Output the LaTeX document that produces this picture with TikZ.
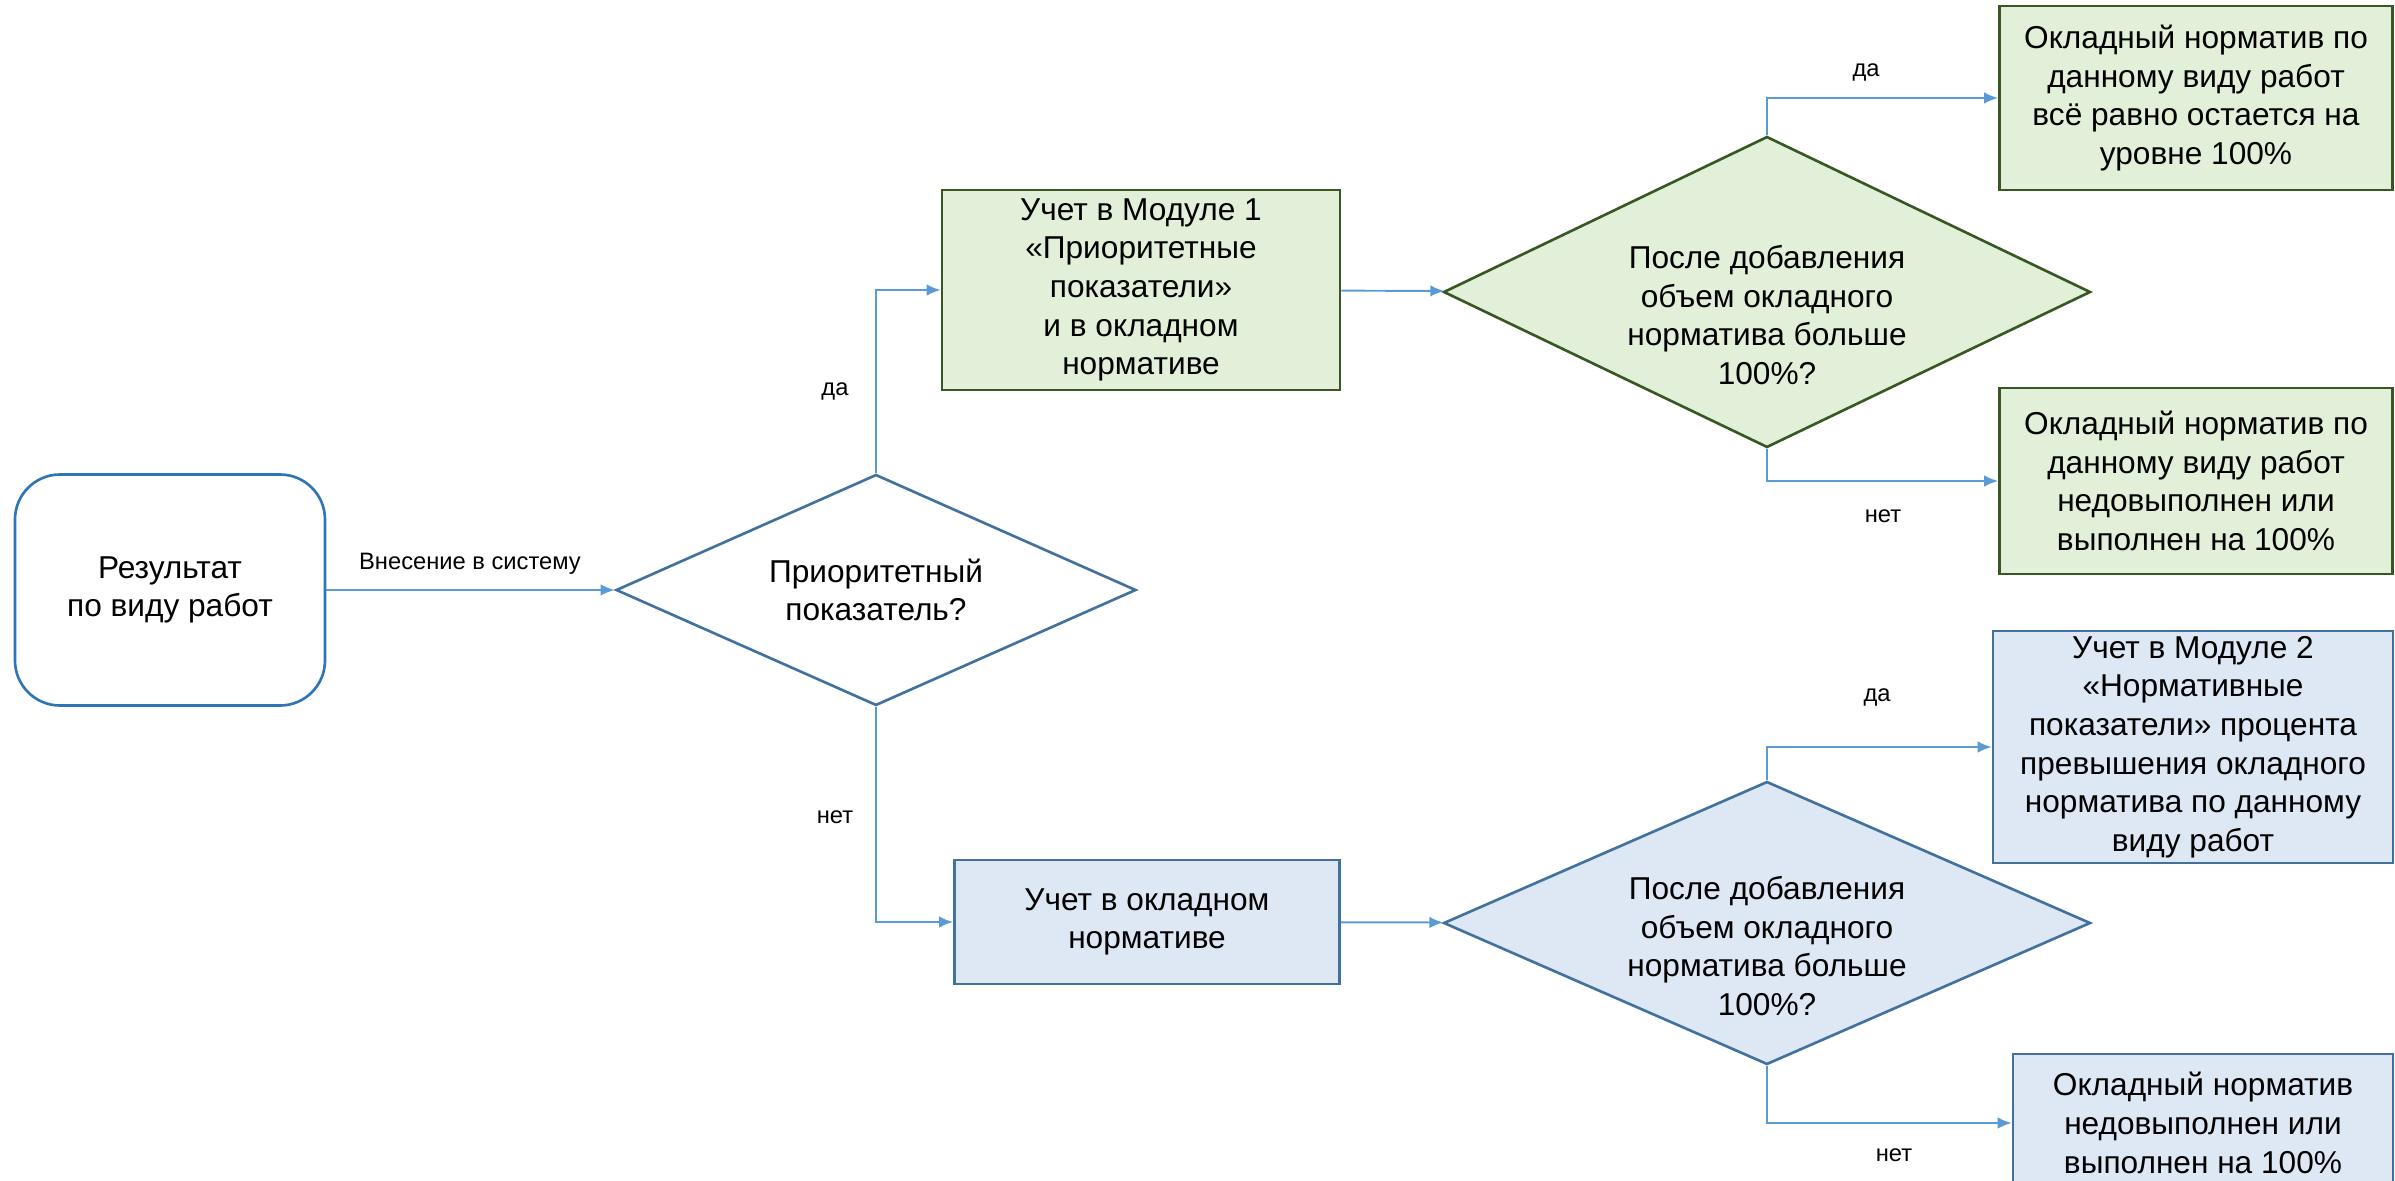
\documentclass[tikz,border=0pt]{standalone}
\usepackage{fontspec}
\setmainfont{Liberation Sans}
\usetikzlibrary{arrows.meta,shapes.geometric}

\definecolor{grfill}{HTML}{E2F0D9}
\definecolor{grline}{HTML}{385723}
\definecolor{blfill}{HTML}{DEE8F4}
\definecolor{blline}{HTML}{41719C}
\definecolor{startline}{HTML}{2E75B6}
\definecolor{flowc}{HTML}{5B9BD5}

\tikzset{
	bigtext/.style={font=\fontsize{18}{22}\selectfont, align=center},
	smalltext/.style={font=\fontsize{13.5}{16}\selectfont},
	greenbox/.style={bigtext, draw=grline, fill=grfill, line width=1.5pt, inner sep=1pt},
	bluebox/.style={bigtext, draw=blline, fill=blfill, line width=1.5pt, inner sep=1pt},
	question/.style={diamond, inner sep=0pt, line width=1.5pt},
	flow/.style={draw=flowc, line width=1.1pt, -{Latex[length=2.8mm,width=2.3mm]}}
}

\begin{document}
\begin{tikzpicture}[x=0.2mm, y=-0.2mm]
			\useasboundingbox (0,0) rectangle (2395,1181);
			% start and first question
			\node[bigtext, draw=startline, line width=1.5pt, rounded corners=9mm, minimum width=62mm, minimum height=46.2mm] (start) at (170,590) {Результат\\по виду работ};
			\node[question, draw=blline, fill=white, minimum width=104mm, minimum height=46.2mm] (prio) at (876,590) {};
			\node[bigtext] at (prio.center) {Приоритетный\\показатель?};
			% green branch
			\node[greenbox, minimum width=79.6mm, minimum height=40mm] (mod1) at (1141,290) {Учет в Модуле 1\\«Приоритетные\\показатели»\\и в окладном\\нормативе};
			\node[question, draw=grline, fill=grfill, minimum width=129.4mm, minimum height=62.2mm] (over1) at (1767,292) {};
			\node[bigtext] at ([yshift=-4.6mm]over1.center) {После добавления\\объем окладного\\норматива больше\\100\%?};
			\node[greenbox, minimum width=78.6mm, minimum height=36.8mm] (res1) at (2196,98) {Окладный норматив по\\данному виду работ\\всё равно остается на\\уровне 100\%};
			\node[greenbox, minimum width=78.6mm, minimum height=37.2mm] (res2) at (2196,481) {Окладный норматив по\\данному виду работ\\недовыполнен или\\выполнен на 100\%};
			% blue branch
			\node[bluebox, minimum width=77mm, minimum height=24.8mm] (okl) at (1147,922) {Учет в окладном\\нормативе};
			\node[question, draw=blline, fill=blfill, minimum width=129.4mm, minimum height=56.6mm] (over2) at (1767,923) {};
			\node[bigtext] at ([yshift=-4.6mm]over2.center) {После добавления\\объем окладного\\норматива больше\\100\%?};
			\node[bluebox, minimum width=80mm, minimum height=46.4mm] (mod2) at (2193,747) {Учет в Модуле 2\\«Нормативные\\показатели» процента\\превышения окладного\\норматива по данному\\виду работ};
			\node[bluebox, minimum width=76mm, minimum height=27.6mm] (res3) at (2203,1123) {Окладный норматив\\недовыполнен или\\выполнен на 100\%};
			% connectors
			\draw[flow] (start) -- (prio);
			\draw[flow] (prio.north) |- (mod1.west);
			\draw[flow] (prio.south) |- (okl.west);
			\draw[flow] (mod1) -- (over1);
			\draw[flow] (okl) -- (over2);
			\draw[flow] (over1.north) |- (res1.west);
			\draw[flow] (over1.south) |- (res2.west);
			\draw[flow] (over2.north) |- (mod2.west);
			\draw[flow] (over2.south) |- (res3.west);
			% labels
			\node[smalltext] at (470,564) {Внесение в систему};
			\node[smalltext] at (835,391) {да};
			\node[smalltext] at (835,817) {нет};
			\node[smalltext] at (1866,72) {да};
			\node[smalltext] at (1883,516) {нет};
			\node[smalltext] at (1877,697) {да};
			\node[smalltext] at (1894,1155) {нет};
		\end{tikzpicture}
\end{document}
